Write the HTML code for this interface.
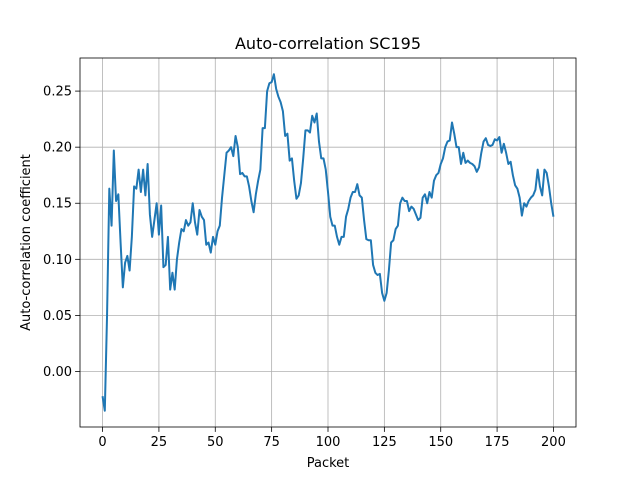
<!DOCTYPE html>
<html><head><meta charset="utf-8"><style>
body{margin:0;background:#fff;}
svg{display:block;font-family:"DejaVu Sans","Liberation Sans",sans-serif;}
</style></head><body>
<svg id="chart" width="640" height="480"></svg>
<script>
const xTicks=[0,25,50,75,100,125,150,175,200];
const yTicks=[0.00,0.05,0.10,0.15,0.20,0.25];
const yTickLabels=["0.00","0.05","0.10","0.15","0.20","0.25"];
const values=[-0.022,-0.035,0.05,0.163,0.13,0.197,0.152,0.158,0.115,0.075,0.097,0.103,0.09,0.12,0.165,0.163,0.18,0.16,0.18,0.157,0.185,0.14,0.12,0.135,0.15,0.122,0.148,0.093,0.095,0.12,0.073,0.088,0.073,0.1,0.115,0.127,0.125,0.135,0.13,0.133,0.15,0.133,0.122,0.144,0.138,0.135,0.113,0.115,0.106,0.12,0.113,0.125,0.13,0.155,0.175,0.195,0.197,0.2,0.192,0.21,0.2,0.176,0.177,0.174,0.174,0.165,0.152,0.142,0.158,0.17,0.18,0.217,0.217,0.25,0.257,0.258,0.265,0.252,0.245,0.24,0.232,0.21,0.212,0.188,0.19,0.17,0.154,0.157,0.168,0.19,0.215,0.215,0.213,0.228,0.222,0.23,0.205,0.19,0.19,0.18,0.16,0.138,0.13,0.13,0.12,0.113,0.12,0.12,0.138,0.145,0.155,0.16,0.16,0.167,0.157,0.155,0.135,0.118,0.117,0.117,0.095,0.088,0.086,0.087,0.07,0.063,0.07,0.09,0.115,0.117,0.127,0.13,0.15,0.155,0.152,0.152,0.143,0.147,0.145,0.14,0.135,0.137,0.155,0.158,0.15,0.16,0.155,0.17,0.175,0.177,0.185,0.19,0.2,0.205,0.206,0.222,0.212,0.2,0.2,0.185,0.195,0.186,0.188,0.186,0.185,0.183,0.178,0.182,0.195,0.205,0.208,0.202,0.201,0.202,0.207,0.206,0.209,0.195,0.203,0.195,0.185,0.187,0.175,0.166,0.163,0.155,0.139,0.15,0.147,0.152,0.155,0.157,0.162,0.18,0.165,0.157,0.18,0.177,0.165,0.15,0.138];

const L=80,R=576,T=58,B=427;
const xMin=-10,xMax=210,yMin=-0.0495,yMax=0.2795;
const sx=v=>L+(v-xMin)/(xMax-xMin)*(R-L);
const sy=v=>B-(v-yMin)/(yMax-yMin)*(B-T);
const svg=document.getElementById('chart');
const NS='http://www.w3.org/2000/svg';
function mk(tag,attrs,text){const e=document.createElementNS(NS,tag);for(const k in attrs)e.setAttribute(k,attrs[k]);if(text!==undefined)e.textContent=text;svg.appendChild(e);return e;}

xTicks.forEach(t=>{
  const x=sx(t);
  const g=mk('line',{x1:x,x2:x,y1:T,y2:B,stroke:'#b0b0b0','stroke-width':0.8});
  
  
  const tk=mk('line',{x1:x,x2:x,y1:B,y2:B+4.9,stroke:'#000','stroke-width':0.8});
  
  
  const lb=mk('text',{x:x,y:B+19,'text-anchor':'middle','font-size':13},String(t));
  
  
});
yTicks.forEach((t,i)=>{
  const y=sy(t);
  const g=mk('line',{x1:L,x2:R,y1:y,y2:y,stroke:'#b0b0b0','stroke-width':0.8});
  
  
  const tk=mk('line',{x1:L-4.9,x2:L,y1:y,y2:y,stroke:'#000','stroke-width':0.8});
  
  
  const lb=mk('text',{x:L-8,y:y+4.5,'text-anchor':'end','font-size':13},yTickLabels[i]);
  
  
});
const d=values.map((v,i)=>(i?'L':'M')+sx(i).toFixed(2)+','+sy(v).toFixed(2)).join('');
const line=mk('path',{d:d,fill:'none',stroke:'#1f77b4','stroke-width':2,'stroke-linejoin':'round'});


const frame=mk('rect',{x:L,y:T,width:R-L,height:B-T,fill:'none',stroke:'#000','stroke-width':0.8});


const title=mk('text',{x:(L+R)/2,y:T-9,'text-anchor':'middle','font-size':16},'Auto-correlation SC195');


const xl=mk('text',{x:(L+R)/2,y:467,'text-anchor':'middle','font-size':13},'Packet');


const yl=mk('text',{x:30,y:(T+B)/2,'text-anchor':'middle','font-size':13,transform:'rotate(-90 30 '+((T+B)/2)+')'},'Auto-correlation coefficient');


</script>
</body></html>
